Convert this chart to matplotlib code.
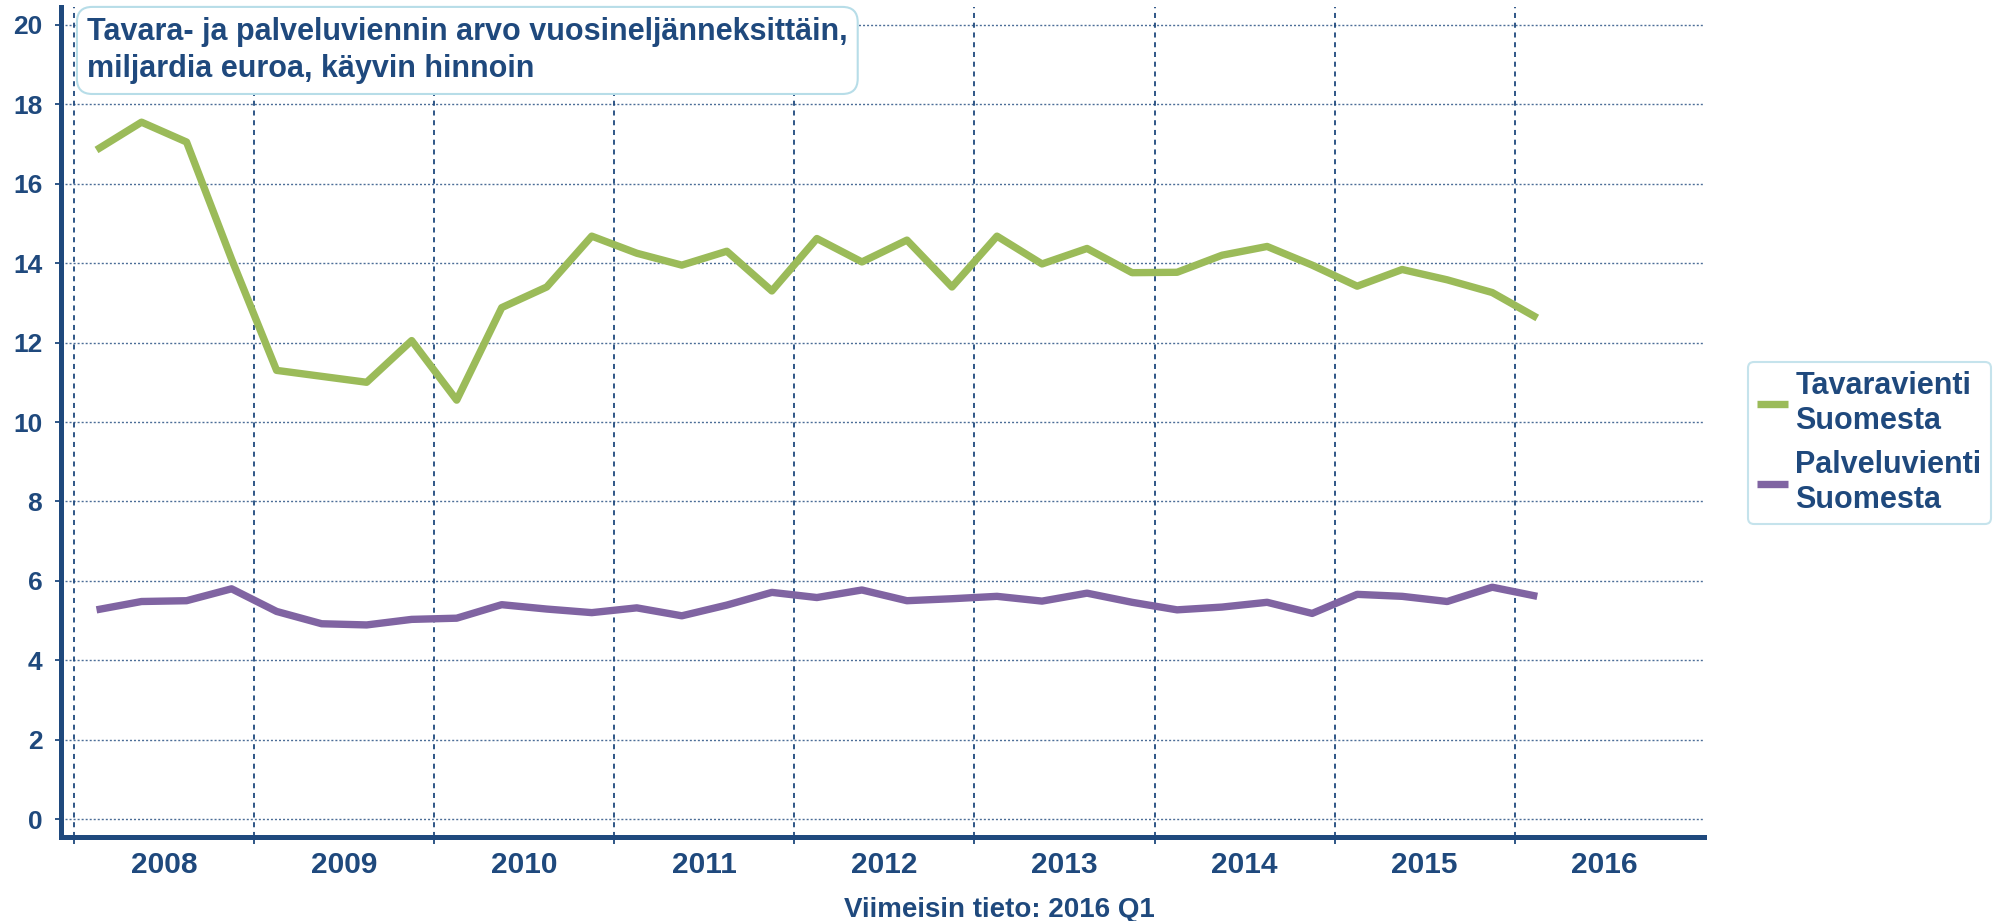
import matplotlib.pyplot as plt
from matplotlib.ticker import MultipleLocator

# Neljännesvuosittaiset arvot, mrd euroa (2008 Q1 - 2016 Q1)
vuodet = list(range(2008, 2017))
neljannekset = [(v, q) for v in vuodet for q in range(1, 5)][:33]
tavaravienti = [16.85, 17.55, 17.05, 14.1, 11.3, 11.15, 11.0, 12.05,
                10.55, 12.88, 13.4, 14.68, 14.25, 13.95, 14.3, 13.3,
                14.62, 14.03, 14.58, 13.4, 14.68, 13.98, 14.37, 13.76,
                13.77, 14.2, 14.42, 13.95, 13.42, 13.84, 13.58, 13.26,
                12.62]
palveluvienti = [5.27, 5.48, 5.5, 5.8, 5.23, 4.92, 4.89, 5.03,
                 5.06, 5.4, 5.29, 5.2, 5.32, 5.12, 5.39, 5.71,
                 5.58, 5.77, 5.5, 5.55, 5.61, 5.49, 5.69, 5.46,
                 5.27, 5.34, 5.46, 5.18, 5.66, 5.61, 5.48, 5.84,
                 5.61]
sarjat = ['Tavaravienti\nSuomesta', 'Palveluvienti\nSuomesta']
otsikko = 'Tavara- ja palveluviennin arvo vuosineljänneksittäin,\nmiljardia euroa, käyvin hinnoin'
alaviite = 'Viimeisin tieto: 2016 Q1'

sininen = '#1F497D'
vihrea = '#9BBB59'
violetti = '#8064A2'

plt.rcParams['font.family'] = ['Liberation Sans', 'DejaVu Sans']
plt.rcParams['font.weight'] = 'bold'

x = [v + (q - 0.5) / 4 for v, q in neljannekset]

fig = plt.figure(figsize=(20.01, 9.21), dpi=100)
ax = fig.add_axes([0.0305, 0.0912, 0.821, 0.9012])

ax.plot(x, tavaravienti, color=vihrea, lw=5.3, label=sarjat[0], zorder=3,
        solid_capstyle='butt', solid_joinstyle='round')
ax.plot(x, palveluvienti, color=violetti, lw=5.3, label=sarjat[1], zorder=3,
        solid_capstyle='butt', solid_joinstyle='round')

ax.set_xlim(2007.928, 2017.05)
ax.set_ylim(-0.45, 20.45)

# vaakaviivat pisteviivoina, vuosirajat katkoviivoina
ax.yaxis.set_major_locator(MultipleLocator(2))
for y in range(0, 21, 2):
    ax.axhline(y, color=sininen, lw=1.0, ls=(0, (1.45, 1.45)), alpha=0.8, zorder=1)
for v in vuodet:
    ax.axvline(v, color=sininen, lw=1.3, ls=(0, (2.8, 2.6)), zorder=1)

ax.set_xticks(vuodet)
ax.set_xticklabels([])
ax.set_xticks([v + 0.5 for v in vuodet], minor=True)
ax.set_xticklabels([str(v) for v in vuodet], minor=True)
ax.tick_params(axis='x', which='major', length=5, width=1.3, color=sininen, direction='out')
ax.tick_params(axis='x', which='minor', length=0, pad=10)
ax.tick_params(axis='y', length=4.5, width=1.3, color=sininen, pad=9)
for lab in ax.get_yticklabels():
    lab.set_fontsize(19)
    lab.set_color(sininen)
for lab in ax.get_xticklabels(minor=True):
    lab.set_fontsize(21.5)
    lab.set_color(sininen)

for s in ['top', 'right']:
    ax.spines[s].set_visible(False)
for s in ['left', 'bottom']:
    ax.spines[s].set_color(sininen)
    ax.spines[s].set_linewidth(3.6)

fig.text(87 / 2001, 1 - 17 / 921, otsikko, ha='left', va='top',
         fontsize=22, color=sininen, linespacing=1.3, zorder=5,
         bbox=dict(boxstyle='round,pad=0.33,rounding_size=0.5', fc='white',
                   ec='#B7DDE8', lw=1.5))

leg = ax.legend(loc='upper left', bbox_to_anchor=(1748 / 2001, 1 - 362 / 921),
                bbox_transform=fig.transFigure, borderaxespad=0,
                frameon=True, fancybox=True,
                handlelength=1.0, handletextpad=0.25, labelspacing=0.48,
                borderpad=0.3, prop={'weight': 'bold', 'size': 22})
leg.get_frame().set_edgecolor('#B7DDE8')
leg.get_frame().set_linewidth(1.5)
for t in leg.get_texts():
    t.set_color(sininen)
    t.set_linespacing(1.2)
for h in leg.get_lines():
    h.set_linewidth(5.3)
    h.set_solid_capstyle('butt')

fig.text(999 / 2001, 4 / 921, alaviite, ha='center', va='baseline',
         fontsize=20, color=sininen)

fig.savefig('out.png', dpi=100)
